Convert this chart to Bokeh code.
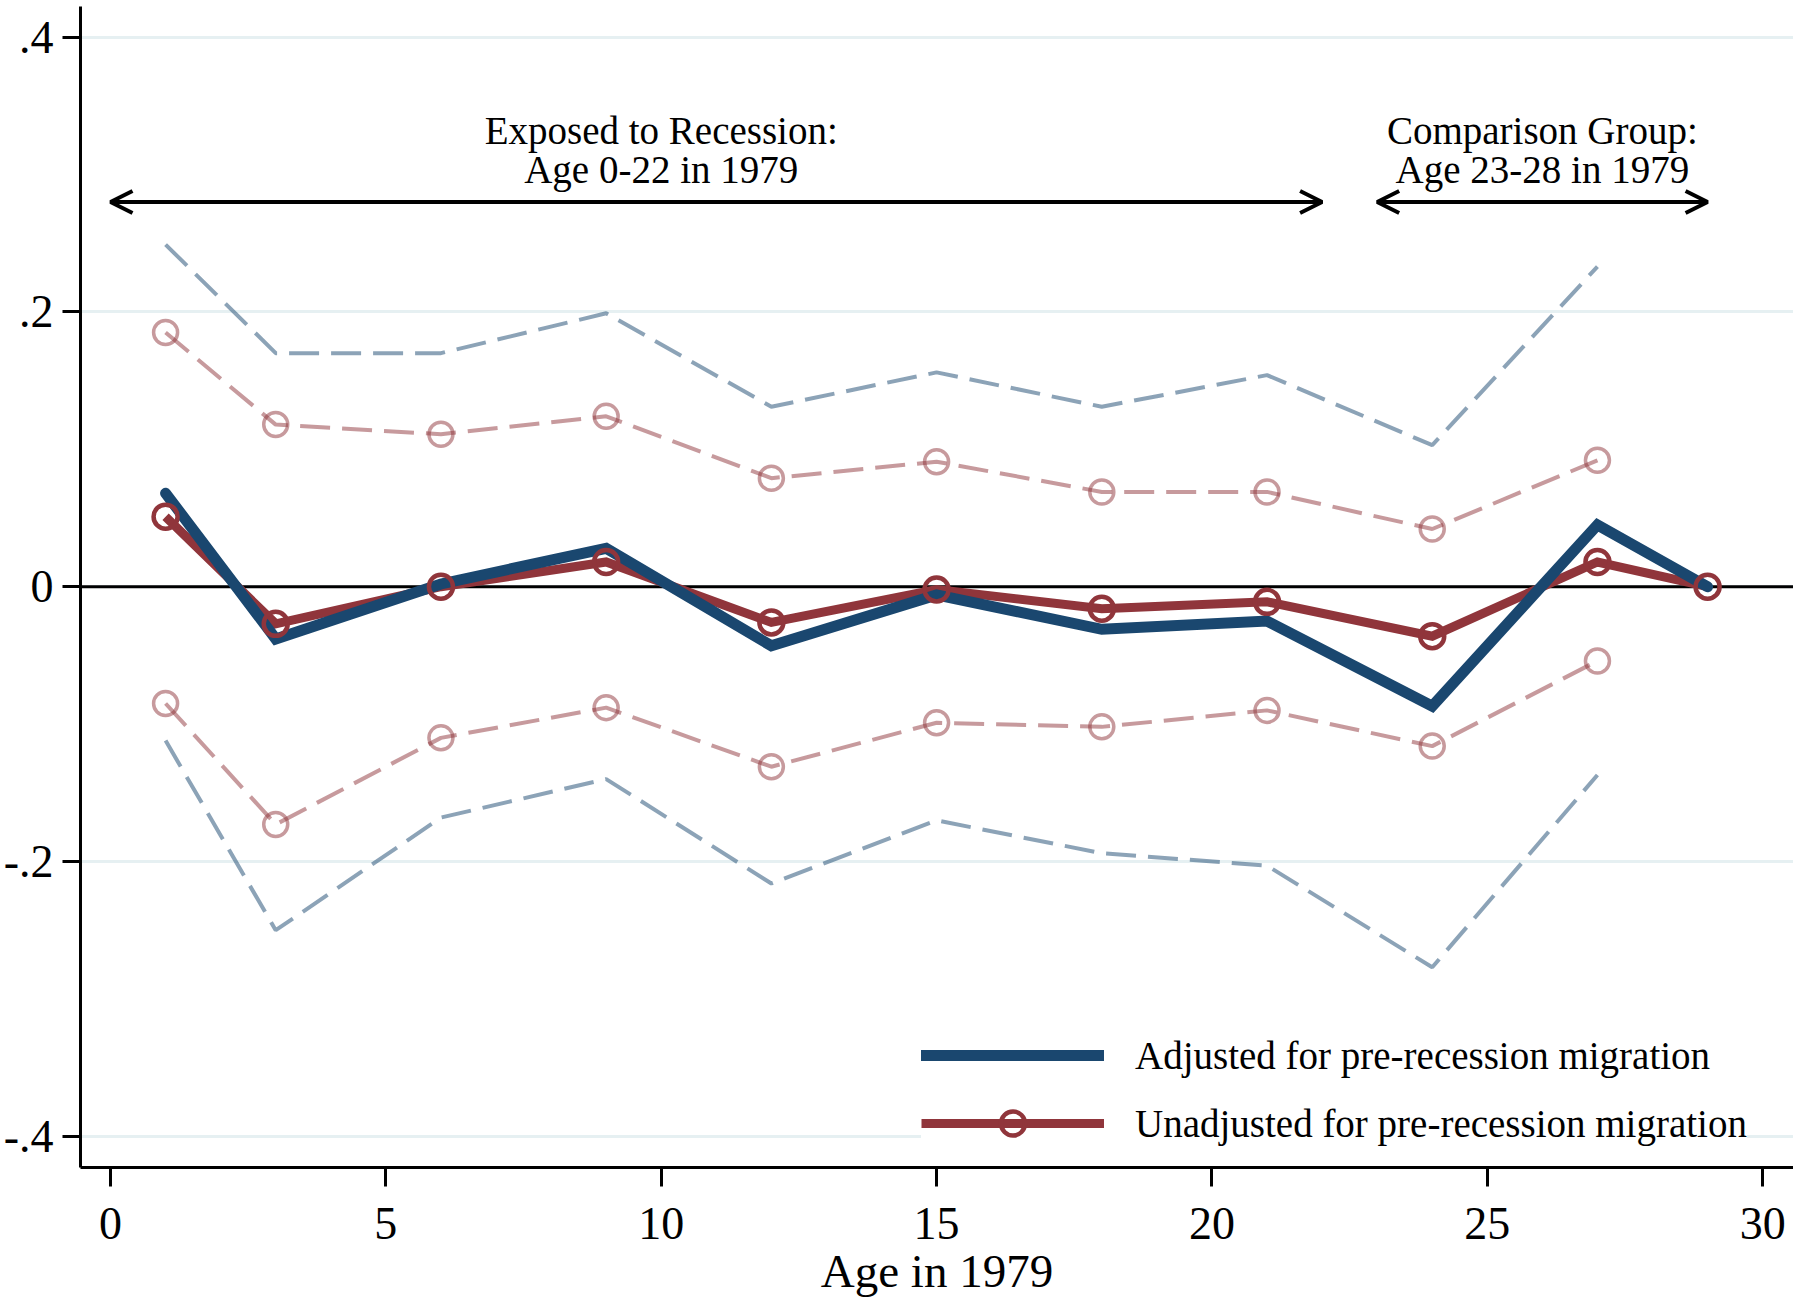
from bokeh.plotting import figure
from bokeh.models import FixedTicker, Range1d, Span, Arrow, OpenHead, Legend, LegendItem
from bokeh.core.properties import value
from bokeh.embed import file_html
from bokeh.resources import INLINE

# ---------------- data ----------------
ages = [1, 3, 6, 9, 12, 15, 18, 21, 24, 27, 29]
adjusted = [0.068, -0.038, 0.002, 0.028, -0.043, -0.006, -0.031, -0.025, -0.087, 0.045, 0.0]
unadjusted = [0.051, -0.027, 0.0, 0.018, -0.026, -0.002, -0.016, -0.011, -0.036, 0.018, 0.0]

ci_ages = [1, 3, 6, 9, 12, 15, 18, 21, 24, 27]
adj_upper = [0.249, 0.170, 0.170, 0.199, 0.131, 0.156, 0.131, 0.154, 0.103, 0.233]
adj_lower = [-0.112, -0.250, -0.168, -0.140, -0.216, -0.170, -0.194, -0.203, -0.277, -0.137]
unadj_upper = [0.185, 0.118, 0.111, 0.124, 0.079, 0.091, 0.069, 0.069, 0.042, 0.092]
unadj_lower = [-0.085, -0.173, -0.110, -0.088, -0.131, -0.099, -0.102, -0.090, -0.116, -0.054]

x_ticks = [0, 5, 10, 15, 20, 25, 30]
y_ticks = [-0.4, -0.2, 0.0, 0.2, 0.4]
y_tick_labels = ["-.4", "-.2", "0", ".2", ".4"]

legend_labels = ["Adjusted for pre-recession migration",
                 "Unadjusted for pre-recession migration"]

note_x = [10, 10, 26, 26]
note_line = [0, 1, 0, 1]
note_text = ["Exposed to Recession:", "Age 0-22 in 1979",
             "Comparison Group:", "Age 23-28 in 1979"]
arrow_spans = [(0, 22), (23, 29)]

# ---------------- style ----------------
NAVY = "#1A476F"
MAROON = "#90353B"
FONT = "Liberation Serif"

p = figure(frame_width=1713, frame_height=1161,
           x_range=Range1d(-0.545, 30.56), y_range=Range1d(-0.4227, 0.4223),
           output_backend="svg", toolbar_location=None,
           min_border_left=80, min_border_right=0, min_border_top=6, min_border_bottom=0)
p.outline_line_color = None
p.background_fill_color = "white"

p.xgrid.visible = False
p.ygrid.ticker = FixedTicker(ticks=y_ticks)
p.ygrid.grid_line_color = "#E6F0F2"
p.ygrid.grid_line_width = 3

zero = Span(location=0, dimension="width", line_color="black", line_width=3, level="underlay")
p.add_layout(zero)

# confidence bands
dash = "30 12"
p.line(ci_ages, adj_upper, line_color=NAVY, line_alpha=0.5, line_width=4, line_dash=dash)
p.line(ci_ages, adj_lower, line_color=NAVY, line_alpha=0.5, line_width=4, line_dash=dash)
p.line(ci_ages, unadj_upper, line_color=MAROON, line_alpha=0.5, line_width=4, line_dash=dash)
p.line(ci_ages, unadj_lower, line_color=MAROON, line_alpha=0.5, line_width=4, line_dash=dash)
p.scatter(ci_ages, unadj_upper, marker="circle", size=24, fill_color=None,
          line_color=MAROON, line_alpha=0.5, line_width=3.5)
p.scatter(ci_ages, unadj_lower, marker="circle", size=24, fill_color=None,
          line_color=MAROON, line_alpha=0.5, line_width=3.5)

# main estimates
r_unadj = p.line(ages, unadjusted, line_color=MAROON, line_width=9, line_join="miter")
r_adj = p.line(ages, adjusted, line_color=NAVY, line_width=11, line_join="miter", line_cap="round")
r_unadj_m = p.scatter(ages, unadjusted, marker="circle", size=24, fill_color=None,
                      line_color=MAROON, line_width=4.5)

# annotations
line_y = [0.3321, 0.3039]
p.text(x=note_x, y=[line_y[i] for i in note_line], text=note_text,
       text_font=value(FONT), text_font_size=value("39px"), text_color="black",
       text_align="center", text_baseline="alphabetic")
for (a, b) in arrow_spans:
    p.add_layout(Arrow(start=OpenHead(size=22, line_width=4, line_color="black"),
                       end=OpenHead(size=22, line_width=4, line_color="black"),
                       x_start=a, y_start=0.28, x_end=b, y_end=0.28,
                       line_width=4, line_color="black"))

# axes
p.xaxis.ticker = FixedTicker(ticks=x_ticks)
p.yaxis.ticker = FixedTicker(ticks=y_ticks)
p.yaxis.major_label_overrides = dict(zip(y_ticks, y_tick_labels))
for ax in (p.xaxis[0], p.yaxis[0]):
    ax.axis_line_width = 3
    ax.axis_line_color = "black"
    ax.major_tick_line_width = 3
    ax.major_tick_line_color = "black"
    ax.major_tick_in = 0
    ax.minor_tick_line_color = None
    ax.major_label_text_font = FONT
    ax.major_label_text_font_size = "46px"
    ax.major_label_text_color = "black"
p.xaxis.major_tick_out = 19
p.yaxis.major_tick_out = 18
p.xaxis.major_label_standoff = 21
p.yaxis.major_label_standoff = 9
p.xaxis.axis_label = "Age in 1979"
p.xaxis.axis_label_text_font = FONT
p.xaxis.axis_label_text_font_size = "47px"
p.xaxis.axis_label_text_font_style = "normal"
p.xaxis.axis_label_text_color = "black"
p.xaxis.axis_label_standoff = 3

legend = Legend(items=[LegendItem(label=legend_labels[0], renderers=[r_adj]),
                       LegendItem(label=legend_labels[1], renderers=[r_unadj, r_unadj_m])],
                location=(841, 14), glyph_width=183, glyph_height=60, label_height=60,
                label_standoff=31, spacing=8, padding=4,
                border_line_color=None, background_fill_color="white", background_fill_alpha=1,
                label_text_font=FONT, label_text_font_size="39px", label_text_color="black")
p.add_layout(legend)

open("out.html", "w").write(file_html(p, INLINE))
